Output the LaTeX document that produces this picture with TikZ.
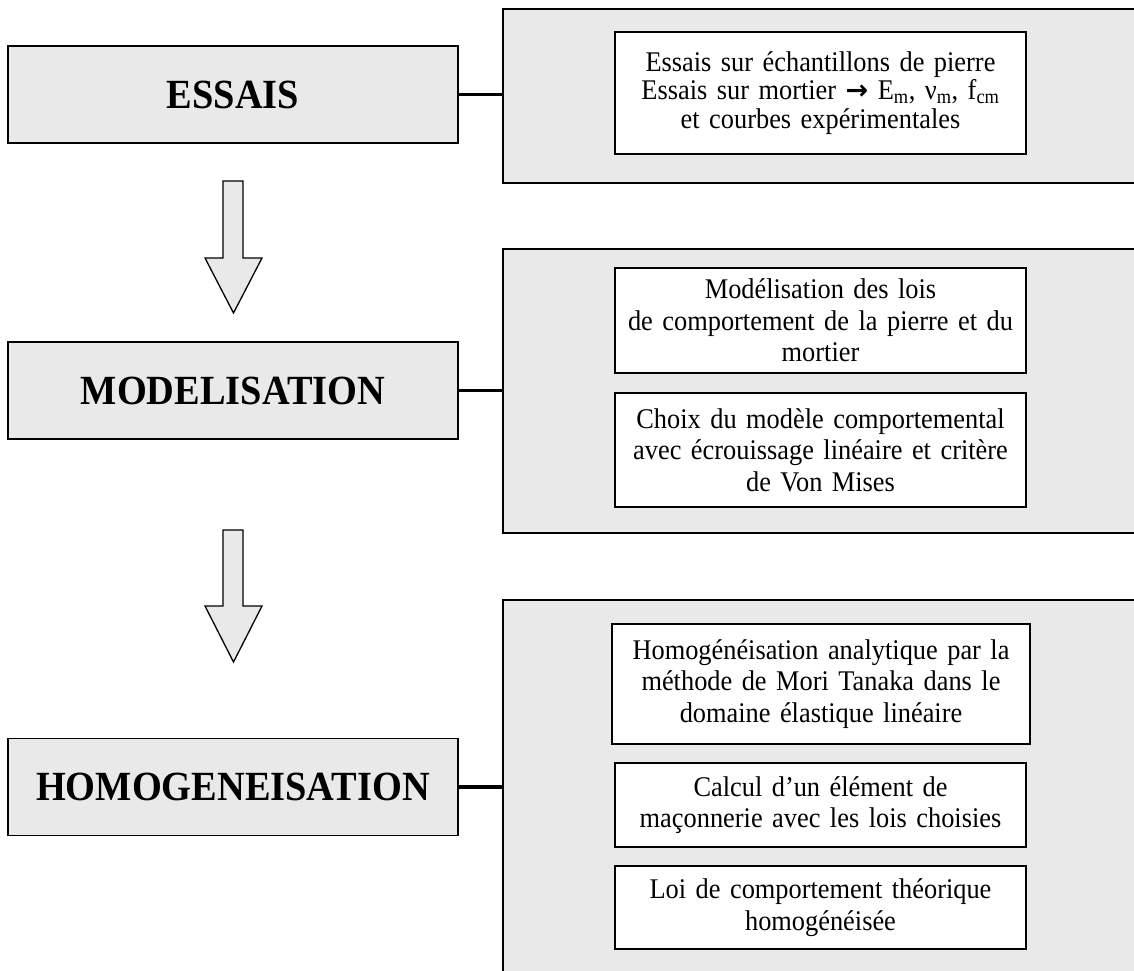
\documentclass[tikz,border=0pt]{standalone}
\usepackage{fontspec}
\setmainfont{Liberation Serif}
\newfontfamily\narrowserif[FakeStretch=0.925]{Liberation Serif}
\newfontfamily\arrowfont{DejaVu Sans}
\definecolor{panelgray}{RGB}{233,233,233}
\tikzset{
  panel/.style={draw, line width=1.6pt, fill=panelgray, minimum width=700pt, anchor=north west, inner sep=0pt},
  titlebox/.style={draw, line width=1.6pt, fill=panelgray, minimum width=450pt, minimum height=97pt, inner sep=0pt,
    font=\narrowserif\fontsize{41.5}{48}\selectfont\bfseries},
  itembox/.style={draw, line width=1.3pt, fill=white, text width=395pt, inner xsep=8pt, inner ysep=0pt, align=center,
    font=\narrowserif\fontsize{28.5}{31.5}\selectfont},
  conn/.style={line width=3.2pt},
  bigarrow/.style={draw, line width=1.3pt, fill=panelgray, line join=miter}
}
\begin{document}
\begin{tikzpicture}[x=1pt, y=-1pt]
\useasboundingbox (0,0) rectangle (1134,970);
\clip (0,0) rectangle (1134,970);

% panels
\node[panel, minimum height=174pt] (p1) at (502,8) {};
\node[panel, minimum height=284pt] (p2) at (502,248) {};
\node[panel, minimum height=376pt] (p3) at (502,599) {};

% titles
\node[titlebox] (t1) at (233,94.5) {ESSAIS};
\node[titlebox] (t2) at (233,390.5) {MODELISATION};
\node[titlebox] (t3) at (233,787) {HOMOGENEISATION};

% connectors
\draw[conn] (t1.east) -- (t1.east -| p1.west);
\draw[conn] (t2.east) -- (t2.east -| p2.west);
\draw[conn] (t3.east) -- (t3.east -| p3.west);

% items
\node[itembox, minimum height=122pt, font=\narrowserif\fontsize{28.5}{28.5}\selectfont] (e1) at (820.5,93) {Essais sur échantillons de pierre\\
  Essais sur mortier {\arrowfont\bfseries\fontsize{27}{27}\selectfont →} E\textsubscript{m}, ν\textsubscript{m}, f\textsubscript{cm}\\
  et courbes expérimentales};

\node[itembox, minimum height=105pt] (m1) at (820.5,320.5) {Modélisation des lois\\
  de comportement de la pierre et du\\ mortier};
\node[itembox, minimum height=114pt] (m2) at (820.5,450) {Choix du modèle comportemental\\
  avec écrouissage linéaire et critère\\ de Von Mises};

\node[itembox, text width=400pt, inner xsep=9pt, minimum height=120pt] (h1) at (821,684) {Homogénéisation analytique par la\\
  méthode de Mori Tanaka dans le\\ domaine élastique linéaire};
\node[itembox, minimum height=84pt] (h2) at (820.5,805) {Calcul d’un élément de\\
  maçonnerie avec les lois choisies};
\node[itembox, minimum height=83pt] (h3) at (820.5,907.5) {Loi de comportement théorique\\
  homogénéisée};

% down arrows
\draw[bigarrow] (223,181) -- (243,181) -- (243,258) -- (262,258) -- (233.5,313) -- (205,258) -- (223,258) -- cycle;
\draw[bigarrow] (223,530) -- (243,530) -- (243,606) -- (262,606) -- (233.5,662) -- (205,606) -- (223,606) -- cycle;
\end{tikzpicture}
\end{document}
